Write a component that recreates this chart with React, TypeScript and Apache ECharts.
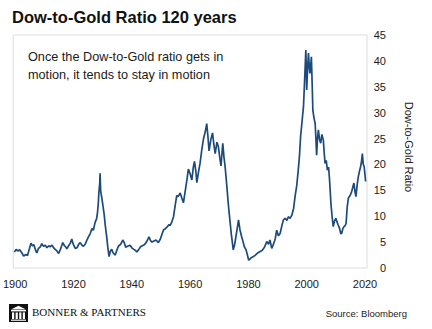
import React, { useEffect, useRef } from "react";
import * as echarts from "echarts";

const titleText = "Dow-to-Gold Ratio 120 years";
const noteLines = ["Once the Dow-to-Gold ratio gets in", "motion, it tends to stay in motion"];
const axisName = "Dow-to-Gold Ratio";
const brandText = "BONNER & PARTNERS";
const sourceText = "Source: Bloomberg";

const xTickYears = [1900, 1920, 1940, 1960, 1980, 2000, 2020];
const yMin = 0;
const yMax = 45;
const yStep = 5;

// [year, Dow-to-Gold ratio]
const dowGold: [number, number][] = [
  [1899.7, 3.1], [1900.3, 3.6], [1900.8, 3.3], [1901.5, 3.5], [1902.2, 3.0], [1902.9, 2.3], [1903.6, 2.6],
  [1904.2, 2.4], [1904.8, 3.6], [1905.4, 4.8], [1905.9, 4.3], [1906.4, 4.5], [1907.0, 3.4], [1907.4, 2.9],
  [1908.0, 3.8], [1908.6, 4.1], [1909.1, 4.7], [1909.7, 4.2], [1910.3, 4.4], [1910.9, 3.9], [1911.5, 4.3],
  [1912.0, 4.1], [1912.6, 4.4], [1913.2, 3.9], [1913.7, 3.6], [1914.3, 3.3], [1914.9, 2.8], [1915.5, 3.6],
  [1916.0, 4.4], [1916.3, 4.9], [1916.9, 4.3], [1917.4, 4.0], [1917.7, 3.7], [1918.3, 4.3], [1918.9, 4.8],
  [1919.4, 5.6], [1919.9, 4.6], [1920.6, 3.8], [1921.2, 3.9], [1921.8, 4.6], [1922.3, 4.9], [1922.9, 4.4],
  [1923.4, 4.2], [1924.0, 4.6], [1924.6, 5.4], [1925.1, 6.0], [1925.7, 6.6], [1926.3, 7.6], [1926.8, 7.3],
  [1927.4, 8.8], [1927.9, 9.5], [1928.2, 10.6], [1928.5, 12.5], [1928.7, 14.6], [1929.0, 16.5], [1929.1, 18.3],
  [1929.3, 15.0], [1929.5, 14.2], [1929.7, 13.6], [1930.1, 12.0], [1930.5, 10.4], [1930.9, 8.2], [1931.4, 5.9],
  [1931.8, 3.8], [1932.2, 2.2], [1932.6, 3.2], [1933.1, 3.6], [1933.6, 2.9], [1934.3, 2.5], [1934.9, 3.5],
  [1935.4, 4.2], [1936.2, 4.6], [1936.9, 5.4], [1937.4, 4.9], [1937.9, 4.0], [1938.5, 4.2], [1939.4, 4.4],
  [1940.0, 3.9], [1940.7, 3.6], [1941.3, 3.4], [1941.7, 3.1], [1942.3, 3.5], [1943.0, 4.1], [1943.6, 4.3],
  [1944.3, 4.5], [1945.0, 5.0], [1945.9, 6.0], [1946.4, 5.3], [1946.9, 5.0], [1947.6, 5.2], [1948.3, 5.4],
  [1949.1, 4.9], [1949.8, 5.6], [1950.4, 6.6], [1950.9, 7.4], [1951.5, 7.6], [1952.2, 8.0], [1952.8, 8.4],
  [1953.1, 8.2], [1953.6, 8.7], [1954.3, 9.9], [1954.8, 11.8], [1955.4, 14.0], [1955.9, 13.8], [1956.6, 14.5],
  [1957.1, 13.6], [1957.7, 12.6], [1958.3, 14.8], [1958.9, 17.0], [1959.4, 19.1], [1960.0, 18.2], [1960.6, 17.0],
  [1961.1, 19.5], [1961.5, 20.6], [1962.0, 18.5], [1962.3, 16.5], [1962.9, 18.6], [1963.4, 20.2], [1964.0, 22.8],
  [1964.6, 25.0], [1965.2, 26.3], [1965.7, 27.9], [1966.1, 25.5], [1966.5, 22.6], [1967.1, 24.8], [1967.7, 26.1],
  [1968.1, 24.0], [1968.6, 22.1], [1969.2, 24.3], [1969.7, 23.4], [1970.2, 21.2], [1970.6, 19.7], [1971.2, 24.1],
  [1971.6, 21.5], [1972.0, 19.6], [1972.6, 15.8], [1973.0, 13.0], [1973.4, 10.6], [1973.8, 8.4], [1974.1, 6.7],
  [1974.5, 4.9], [1974.8, 3.5], [1975.3, 4.6], [1975.7, 6.0], [1976.2, 7.8], [1976.6, 9.3], [1977.1, 7.4],
  [1977.7, 6.0], [1978.2, 5.0], [1978.6, 4.1], [1979.2, 3.5], [1979.7, 2.4], [1980.1, 1.5], [1980.5, 1.7],
  [1981.0, 2.0], [1981.7, 2.2], [1982.4, 2.5], [1983.2, 2.9], [1984.0, 3.2], [1984.7, 3.4], [1985.5, 4.0],
  [1986.3, 5.1], [1986.9, 4.6], [1987.4, 5.4], [1988.0, 3.8], [1988.6, 4.6], [1989.2, 5.6], [1989.7, 7.3],
  [1990.3, 6.2], [1990.9, 6.7], [1991.5, 8.2], [1992.0, 9.3], [1992.6, 9.6], [1993.2, 9.2], [1993.7, 9.9],
  [1994.3, 9.6], [1994.9, 10.2], [1995.5, 11.5], [1996.0, 13.8], [1996.6, 16.0], [1997.1, 18.9], [1997.5, 21.5],
  [1997.9, 25.4], [1998.4, 28.3], [1998.9, 31.2], [1999.3, 36.5], [1999.7, 42.1], [1999.9, 37.5], [2000.0, 34.4],
  [2000.3, 38.5], [2000.6, 41.5], [2000.9, 38.8], [2001.1, 37.6], [2001.4, 39.2], [2001.6, 40.8], [2001.9, 35.0],
  [2002.1, 30.5], [2002.5, 29.0], [2002.9, 27.9], [2003.2, 24.5], [2003.4, 21.8], [2003.7, 25.0], [2004.0, 26.7],
  [2004.4, 24.8], [2004.8, 24.1], [2005.2, 25.8], [2005.7, 24.7], [2006.0, 22.3], [2006.3, 20.2], [2006.7, 20.8],
  [2007.1, 18.9], [2007.5, 19.5], [2007.8, 17.3], [2008.1, 14.5], [2008.3, 12.5], [2008.7, 10.0], [2009.1, 8.0],
  [2009.5, 9.0], [2010.0, 9.6], [2010.4, 8.9], [2010.8, 8.3], [2011.3, 7.6], [2011.7, 6.6], [2012.0, 6.7],
  [2012.4, 7.6], [2012.8, 8.0], [2013.2, 8.2], [2013.5, 8.6], [2013.9, 11.8], [2014.3, 13.5], [2014.9, 14.0],
  [2015.4, 14.7], [2015.8, 15.6], [2016.2, 16.4], [2016.6, 14.6], [2016.9, 13.8], [2017.3, 16.0], [2017.7, 17.6],
  [2018.1, 18.7], [2018.5, 19.6], [2018.8, 20.6], [2019.1, 22.1], [2019.4, 20.0], [2019.7, 19.6], [2020.0, 18.0],
  [2020.2, 16.7],
];

const SANS = "'Liberation Sans', Arial, sans-serif";
const SERIF = "'Liberation Serif', 'Times New Roman', serif";

export default function App() {
  const ref = useRef<HTMLDivElement>(null);

  useEffect(() => {
    if (!ref.current) return;
    const chart = echarts.init(ref.current, undefined, { renderer: "svg" });

    const logo = {
      type: "group",
      children: [
        { type: "rect", shape: { x: 9, y: 304, width: 19, height: 18 }, style: { fill: "#111" } },
        { type: "polygon", shape: { points: [[11, 309.5], [18.5, 305.8], [26, 309.5]] }, style: { fill: "#fff" } },
        { type: "rect", shape: { x: 11, y: 310, width: 15, height: 1.4 }, style: { fill: "#fff" } },
        { type: "rect", shape: { x: 12, y: 312.4, width: 2.2, height: 6.6 }, style: { fill: "#fff" } },
        { type: "rect", shape: { x: 15.6, y: 312.4, width: 2.2, height: 6.6 }, style: { fill: "#fff" } },
        { type: "rect", shape: { x: 19.2, y: 312.4, width: 2.2, height: 6.6 }, style: { fill: "#fff" } },
        { type: "rect", shape: { x: 22.8, y: 312.4, width: 2.2, height: 6.6 }, style: { fill: "#fff" } },
        { type: "rect", shape: { x: 11, y: 319.6, width: 15, height: 1.2 }, style: { fill: "#fff" } },
      ],
    };

    chart.setOption({
      animation: false,
      backgroundColor: "#fff",
      grid: {
        left: 13,
        right: 65,
        top: 35,
        bottom: 61,
        show: true,
        borderColor: "#dcdcdc",
        borderWidth: 1,
        backgroundColor: "transparent",
      },
      xAxis: {
        type: "value",
        min: 1900 - 2 / (350 / 120),
        max: 2020 + 2 / (350 / 120),
        axisLine: { show: false },
        axisTick: { show: false },
        splitLine: { show: false },
        axisLabel: {
          customValues: xTickYears,
          margin: 10,
          color: "#1a1a1a",
          fontFamily: SANS,
          fontSize: 11,
          formatter: (v: number) => String(Math.round(v)),
        },
      },
      yAxis: {
        type: "value",
        position: "right",
        min: yMin,
        max: yMax,
        interval: yStep,
        axisLine: { show: false },
        axisTick: { show: false },
        splitLine: { show: false },
        axisLabel: {
          align: "right",
          margin: 19,
          color: "#1a1a1a",
          fontFamily: SANS,
          fontSize: 11,
        },
      },
      series: [
        {
          type: "line",
          data: dowGold,
          showSymbol: false,
          symbol: "none",
          lineStyle: { color: "#1d4a7c", width: 1.7 },
          silent: true,
        },
      ],
      graphic: [
        {
          type: "text",
          x: 12,
          y: 17,
          style: {
            text: titleText,
            fill: "#111",
            font: `bold 16.5px ${SANS}`,
            verticalAlign: "middle",
          },
        },
        {
          type: "text",
          x: 28,
          y: 57,
          style: { text: noteLines[0], fill: "#1a1a1a", font: `12.7px ${SANS}`, verticalAlign: "middle" },
        },
        {
          type: "text",
          x: 28,
          y: 75,
          style: { text: noteLines[1], fill: "#1a1a1a", font: `12.7px ${SANS}`, verticalAlign: "middle" },
        },
        {
          type: "text",
          x: 409,
          y: 147,
          rotation: -Math.PI / 2,
          style: {
            text: axisName,
            fill: "#222",
            font: `11px ${SANS}`,
            align: "center",
            verticalAlign: "middle",
          },
        },
        logo,
        {
          type: "text",
          x: 32,
          y: 312,
          style: { text: brandText, fill: "#111", font: `11px ${SERIF}`, verticalAlign: "middle" },
        },
        {
          type: "text",
          x: 407,
          y: 313,
          style: { text: sourceText, fill: "#222", font: `9.5px ${SANS}`, align: "right", verticalAlign: "middle" },
        },
      ],
    });

    return () => chart.dispose();
  }, []);

  return (
    <div
      ref={ref}
      style={{ position: "fixed", left: 0, top: 0, width: 432, height: 329, background: "#fff" }}
    />
  );
}
